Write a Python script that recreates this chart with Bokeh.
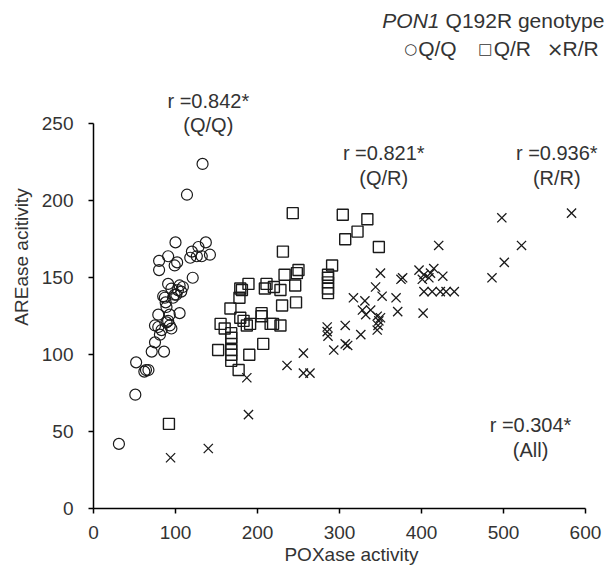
from bokeh.plotting import figure
from bokeh.models import Range1d, FixedTicker, Label
from bokeh.embed import file_html
from bokeh.resources import INLINE

# Q/Q genotype (circles)
qq_x = [31, 51, 52, 62, 64, 67, 71, 86, 75, 81, 75, 79, 91, 93, 95, 79, 93, 105, 89, 85,
        97, 99, 95, 87, 105, 109, 103, 107, 91, 121, 80, 80, 91, 99, 102, 100, 120, 128,
        118, 126, 132, 137, 142, 114, 133, 83, 89, 88, 101]
qq_y = [42, 74, 95, 89, 90, 90, 102, 102, 108, 113, 119, 118, 122, 119, 117, 126, 126, 127,
        131, 138, 137, 139, 143, 137, 145, 144, 142, 141, 146, 150, 155, 161, 164, 158, 160,
        173, 167, 170, 163, 164, 164, 173, 165, 204, 224, 116, 121, 134, 139]

# Q/R genotype (squares)
qr_x = [92, 152, 155, 160, 167, 168, 168, 168, 168, 168, 168, 177, 190, 207, 179, 178, 183,
        187, 191, 179, 205, 205, 216, 228, 219, 209, 211, 220, 228, 230, 247, 246, 189, 181,
        231, 243, 233, 250, 248, 286, 286, 286, 286, 286, 291, 304, 307, 322, 334, 348]
qr_y = [55, 103, 120, 117, 130, 114, 111, 107, 103, 100, 96, 90, 100, 107, 143, 137, 122,
        119, 120, 124, 127, 125, 120, 119, 120, 143, 146, 144, 142, 132, 134, 145, 146, 142,
        167, 192, 152, 155, 153, 152, 150, 147, 143, 140, 158, 191, 175, 180, 188, 170]

# R/R genotype (crosses)
rr_x = [94, 140, 189, 187, 236, 256, 256, 264, 285, 285, 286, 293, 307, 307, 310, 317, 328,
        332, 338, 331, 326, 346, 350, 348, 346, 347, 344, 350, 352, 369, 375, 371, 377, 397,
        403, 401, 409, 415, 411, 426, 403, 413, 423, 430, 440, 402, 421, 486, 501, 498, 522,
        583]
rr_y = [33, 39, 61, 85, 93, 101, 88, 88, 118, 115, 112, 103, 119, 107, 106, 137, 129, 126,
        129, 135, 113, 125, 124, 122, 116, 119, 144, 153, 138, 137, 149, 128, 150, 155, 152,
        149, 150, 156, 153, 151, 141, 141, 141, 141, 141, 127, 171, 150, 160, 189, 171, 192]

x_ticks = [0, 100, 200, 300, 400, 500, 600]
y_ticks = [0, 50, 100, 150, 200, 250]

r_labels = ["r =0.842*", "r =0.821*", "r =0.936*", "r =0.304*"]
g_labels = ["(Q/Q)", "(Q/R)", "(R/R)", "(All)"]
r_pos_x = [140, 354, 565, 533]
r_pos_y = [265, 231, 231, 54]

FONT = "Liberation Sans"
TXT = "#333333"
MK = "#1a1a1a"

p = figure(width=609, height=570, output_backend="svg", toolbar_location=None,
           x_range=Range1d(0, 629.3), y_range=Range1d(0, 327),
           min_border_left=93, min_border_right=0, min_border_top=5, min_border_bottom=62)
p.outline_line_color = None
p.xgrid.visible = False
p.ygrid.visible = False
p.background_fill_color = "white"

for ax in (p.xaxis[0], p.yaxis[0]):
    ax.axis_line_color = "black"
    ax.axis_line_width = 1.5
    ax.major_tick_line_color = "black"
    ax.major_tick_line_width = 1.5
    ax.major_tick_out = 5
    ax.major_tick_in = 0
    ax.minor_tick_line_color = None
    ax.major_label_text_font = FONT
    ax.major_label_text_font_size = "19px"
    ax.major_label_text_color = TXT
    ax.axis_label_text_font = FONT
    ax.axis_label_text_font_size = "19px"
    ax.axis_label_text_font_style = "normal"
    ax.axis_label_text_color = TXT

p.xaxis.bounds = (0, 600)
p.yaxis.bounds = (0, 250)
p.xaxis.ticker = FixedTicker(ticks=x_ticks)
p.yaxis.ticker = FixedTicker(ticks=y_ticks)
p.xaxis.axis_label = "POXase activity"
p.yaxis.axis_label = "AREase acitivity"
p.xaxis.major_label_standoff = 12
p.xaxis.axis_label_standoff = 2
p.yaxis.major_label_standoff = 15
p.yaxis.axis_label_standoff = 7

p.scatter(qq_x, qq_y, marker="circle", size=11, fill_color=None, line_color=MK, line_width=1.2)
p.scatter(qr_x, qr_y, marker="square", size=11, fill_color=None, line_color=MK, line_width=1.4)
p.scatter(rr_x, rr_y, marker="x", size=13, line_color=MK, line_width=1.3)

for rl, gl, lx, ly in zip(r_labels, g_labels, r_pos_x, r_pos_y):
    p.add_layout(Label(x=lx, y=ly, text=rl, text_align="center", text_baseline="middle",
                       text_font=FONT, text_font_size="20px", text_color=TXT))
    p.add_layout(Label(x=lx, y=ly - 16, text=gl, text_align="center", text_baseline="middle",
                       text_font=FONT, text_font_size="20px", text_color=TXT))

# legend header
p.add_layout(Label(x=623, y=317, text="Q192R genotype", text_align="right", text_baseline="middle",
                   text_font=FONT, text_font_size="21px", text_color=TXT))
p.add_layout(Label(x=422, y=317, text="PON1", text_align="right", text_baseline="middle",
                   text_font=FONT, text_font_size="21px", text_font_style="italic", text_color=TXT))
leg_marks = ["○", "□", "×"]
leg_mark_x = [387, 478, 563]
leg_mark_size = ["15px", "15px", "20px"]
leg_items = ["Q/Q", "Q/R", "R/R"]
leg_x = [396, 488, 572]
for m, mx, ms in zip(leg_marks, leg_mark_x, leg_mark_size):
    p.add_layout(Label(x=mx, y=299, text=m, text_align="center", text_baseline="middle",
                       text_font="DejaVu Sans", text_font_size=ms, text_color=TXT))
for t, lx in zip(leg_items, leg_x):
    p.add_layout(Label(x=lx, y=299, text=t, text_align="left", text_baseline="middle",
                       text_font=FONT, text_font_size="21px", text_color=TXT))

open("out.html", "w").write(file_html(p, INLINE))
